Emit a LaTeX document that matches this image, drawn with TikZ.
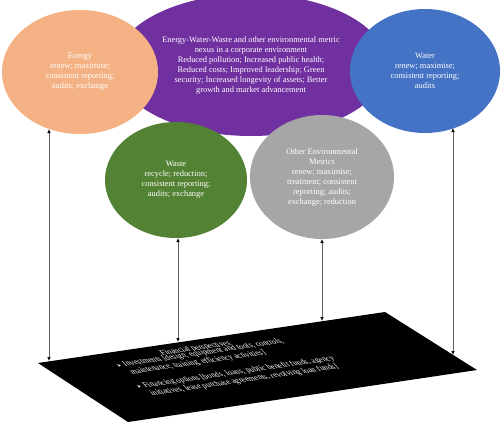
\documentclass[tikz,border=0pt]{standalone}
\usepackage{fontspec}
\setmainfont{Liberation Serif}
\newfontfamily\dejavu{DejaVu Sans}
\usetikzlibrary{shapes.geometric,arrows.meta}
\definecolor{peach}{RGB}{244,177,131}
\definecolor{nexuspurple}{RGB}{112,48,160}
\definecolor{waterblue}{RGB}{68,114,196}
\definecolor{wastegreen}{RGB}{84,130,53}
\definecolor{othergray}{RGB}{166,166,166}
\newcommand{\bul}{\makebox[7pt][l]{\dejavu\fontsize{5}{5}\selectfont ➤}}
\begin{document}
\begin{tikzpicture}[x=1pt,y=-1pt,
  blob/.style={ellipse, inner sep=0pt, draw=none, text=white, align=center,
    font=\fontsize{8.4}{10}\selectfont},
  link/.style={draw=gray!75!black, line width=0.7pt,
    {Latex[color=black,length=4pt,width=3.5pt]}-{Latex[color=black,length=4pt,width=3.5pt]}},
  fintext/.style={transform shape, text=white, inner sep=0pt,
    font=\fontsize{7.8}{8.8}\selectfont}]
\useasboundingbox (0,0) rectangle (500,423);

% ellipses
\node[blob, fill=nexuspurple, minimum width=272pt, minimum height=142pt] (nexus) at (251,65)
  {Energy-Water-Waste and other environmental metric\\nexus in a corporate environment\\Reduced pollution; Increased public health;\\Reduced costs; Improved leadership; Green\\security; Increased longevity of assets; Better\\growth and market advancement};
\node[blob, fill=peach, minimum width=156pt, minimum height=124pt] (energy) at (80,72)
  {Energy\\renew; maximise;\\consistent reporting;\\audits; exchange};
\node[blob, fill=waterblue, minimum width=150pt, minimum height=124pt] (water) at (425,71)
  {Water\\renew; maximise;\\consistent reporting;\\audits};
\node[blob, fill=wastegreen, minimum width=142pt, minimum height=116pt] (waste) at (176,180)
  {Waste\\recycle; reduction;\\consistent reporting;\\audits; exchange};
\node[blob, fill=othergray, minimum width=144pt, minimum height=124pt] (other) at (322,177)
  {Other Environmental\\Metrics\\renew; maximise;\\treatment; consistent\\reporting; audits;\\exchange; reduction};

% financial plane
\coordinate (pL) at (38,363);
\coordinate (pT) at (385,312);
\coordinate (pR) at (477,370);
\coordinate (pB) at (128,422);
\fill[black] (pL) -- (pT) -- (pR) -- (pB) -- cycle;

\begin{scope}[shift={(38,363)}, cm={0.9894,0.1454,-0.8182,0.8905,(0,0)}]
\node[fintext, anchor=base] (fptitle) at (152,10.5) {Financial perspectives};
\node[fintext, anchor=base west, align=left] (inv) at (68,24.7)
  {\bul Investments [design, equipment and tools, controls,\\\hspace*{7pt}maintenance, training, efficiency activities]};
\node[fintext, anchor=base west, align=left] (fin) at (68,49)
  {\bul Financing options [bonds, loans, public benefit funds, agency\\\hspace*{7pt}initiatives, lease purchase agreements, revolving loan funds]};
\end{scope}

% connectors
\coordinate (eT) at (49,129);  \coordinate (eB) at (49,361);
\coordinate (wT) at (178,238); \coordinate (wB) at (178,342);
\coordinate (oT) at (322,239); \coordinate (oB) at (322,321);
\coordinate (aT) at (453,128); \coordinate (aB) at (453,355);
\draw[link] (eT) -- (eB);
\draw[link] (wT) -- (wB);
\draw[link] (oT) -- (oB);
\draw[link] (aT) -- (aB);
\end{tikzpicture}
\end{document}
